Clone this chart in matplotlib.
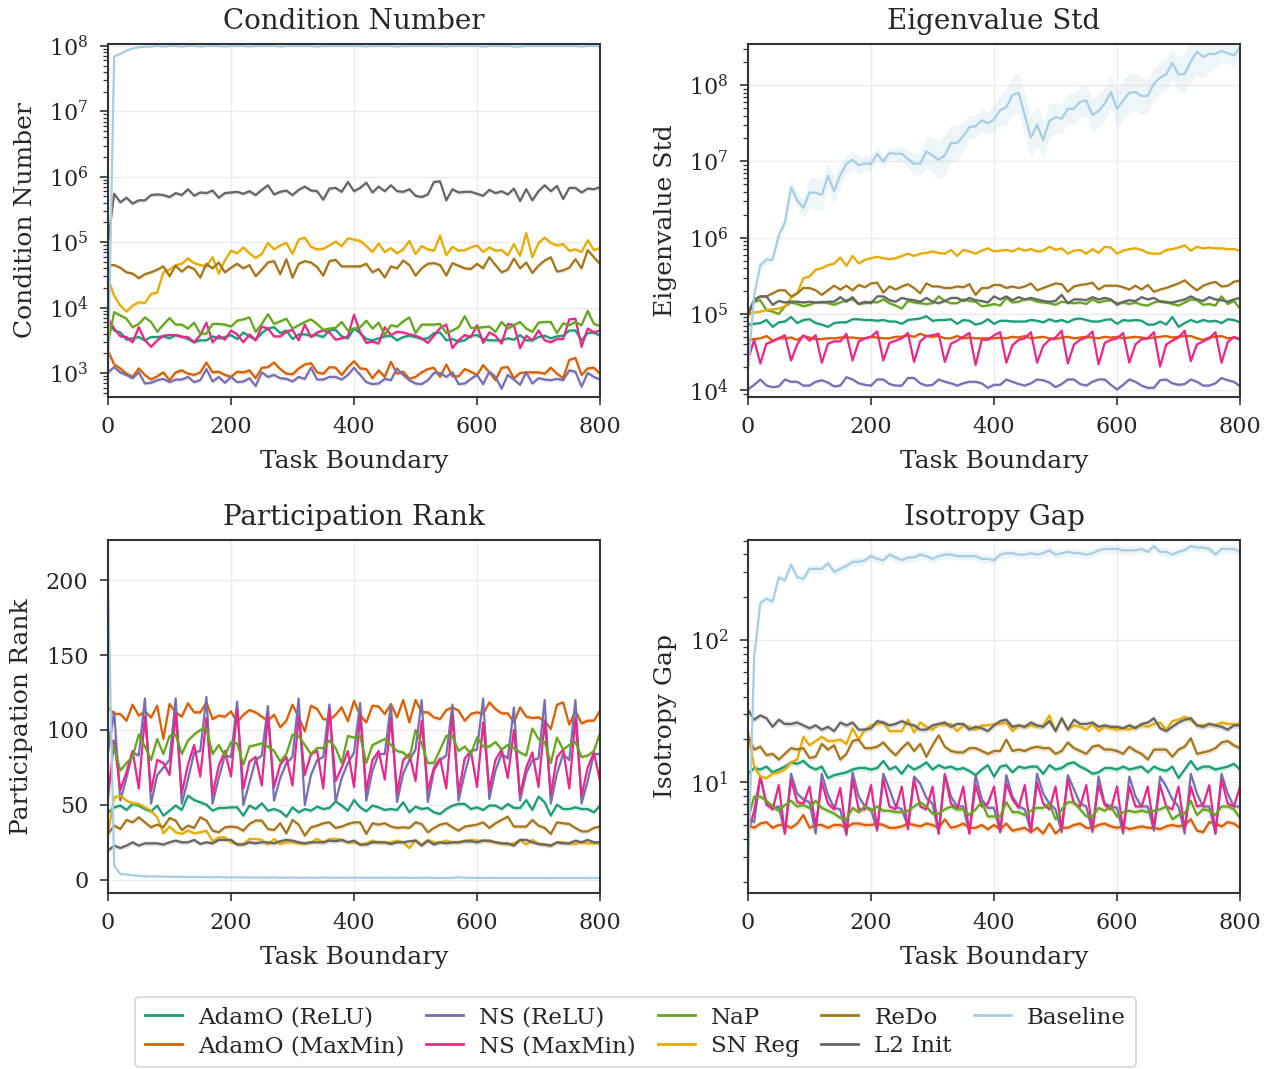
import numpy as np
import matplotlib
matplotlib.use("Agg")
import matplotlib.pyplot as plt
from matplotlib.ticker import LogLocator, NullFormatter, MultipleLocator

STEP = 10  # evaluations are logged every 10 task boundaries

METHODS = ["AdamO (ReLU)", "AdamO (MaxMin)", "NS (ReLU)", "NS (MaxMin)",
           "NaP", "SN Reg", "ReDo", "L2 Init", "Baseline"]
COLORS = ["#1b9e77", "#d95f02", "#7570b3", "#e7298a",
          "#66a61e", "#e6ab02", "#a6761d", "#666666", "#a6cee3"]

# ---------------- Condition number (log10) ----------------
cond_adamo_relu = [3.80, 3.65, 3.62, 3.51, 3.53, 3.55, 3.50, 3.55, 3.55, 3.56, 3.53,
                   3.58, 3.56, 3.52, 3.47, 3.50, 3.50, 3.56, 3.53, 3.55, 3.58,
                   3.52, 3.62, 3.56, 3.51, 3.61, 3.68, 3.70, 3.61, 3.65, 3.52,
                   3.59, 3.59, 3.57, 3.58, 3.55, 3.65, 3.66, 3.56, 3.53, 3.68,
                   3.61, 3.52, 3.50, 3.53, 3.56, 3.57, 3.50, 3.55, 3.57, 3.55,
                   3.52, 3.53, 3.61, 3.62, 3.50, 3.52, 3.48, 3.50, 3.57, 3.58,
                   3.52, 3.50, 3.50, 3.50, 3.53, 3.51, 3.58, 3.50, 3.50, 3.55,
                   3.57, 3.53, 3.56, 3.57, 3.65, 3.65, 3.50, 3.61, 3.62, 3.57]
cond_adamo_maxmin = [3.34, 3.13, 3.07, 2.99, 2.94, 3.07, 2.97, 2.90, 2.95, 3.01, 2.89,
                     3.01, 3.04, 2.99, 2.97, 3.01, 3.16, 3.01, 3.02, 2.97, 2.94,
                     3.02, 3.01, 3.04, 2.92, 3.08, 3.09, 3.16, 3.06, 2.99, 2.98,
                     3.07, 3.13, 3.15, 3.01, 2.99, 3.09, 3.08, 2.97, 3.09, 3.18,
                     3.07, 3.06, 2.92, 3.04, 2.94, 3.17, 2.99, 3.02, 2.91, 2.94,
                     3.01, 3.06, 3.08, 2.94, 3.13, 2.95, 2.95, 3.06, 3.02, 2.97,
                     3.12, 3.01, 2.89, 3.08, 3.09, 2.92, 3.00, 3.01, 3.01, 3.01,
                     2.99, 3.08, 2.99, 2.92, 3.20, 3.23, 2.97, 3.07, 3.08, 2.99]
cond_ns_relu = [3.01, 3.09, 3.01, 2.97, 2.92, 3.01, 2.84, 2.85, 2.89, 2.91, 2.86,
                2.90, 2.90, 2.94, 2.86, 2.89, 3.06, 2.87, 2.94, 2.85, 2.94,
                2.86, 2.87, 2.92, 2.80, 3.01, 2.94, 2.97, 2.92, 2.91, 2.87,
                2.94, 2.91, 3.08, 2.90, 2.90, 2.94, 2.94, 2.90, 2.97, 3.08,
                2.97, 2.86, 2.83, 2.84, 2.91, 2.89, 3.07, 2.97, 2.89, 2.84,
                2.83, 2.89, 3.00, 3.00, 2.94, 3.01, 2.83, 2.84, 2.91, 2.97,
                2.83, 3.02, 2.94, 2.76, 2.97, 2.90, 2.82, 3.01, 2.84, 2.92,
                2.90, 2.89, 2.91, 2.89, 3.04, 3.02, 2.79, 3.00, 2.94, 2.90]
cond_ns_maxmin = [3.83, 3.68, 3.56, 3.55, 3.47, 3.70, 3.50, 3.40, 3.50, 3.57, 3.58,
                  3.58, 3.55, 3.55, 3.47, 3.58, 3.77, 3.47, 3.57, 3.51, 3.65,
                  3.59, 3.47, 3.59, 3.50, 3.71, 3.68, 3.56, 3.56, 3.63, 3.66,
                  3.50, 3.74, 3.55, 3.62, 3.65, 3.62, 3.51, 3.53, 3.56, 3.89,
                  3.62, 3.46, 3.48, 3.45, 3.70, 3.58, 3.63, 3.62, 3.59, 3.57,
                  3.53, 3.46, 3.57, 3.69, 3.74, 3.38, 3.50, 3.58, 3.55, 3.73,
                  3.46, 3.62, 3.57, 3.45, 3.75, 3.73, 3.38, 3.57, 3.50, 3.65,
                  3.50, 3.47, 3.52, 3.52, 3.82, 3.83, 3.40, 3.68, 3.62, 3.65]
cond_nap = [3.45, 3.93, 3.88, 3.83, 3.70, 3.75, 3.85, 3.78, 3.63, 3.74, 3.84,
            3.74, 3.74, 3.68, 3.77, 3.60, 3.60, 3.75, 3.75, 3.74, 3.71,
            3.80, 3.82, 3.85, 3.63, 3.75, 3.90, 3.75, 3.79, 3.83, 3.68,
            3.73, 3.78, 3.82, 3.75, 3.66, 3.68, 3.69, 3.78, 3.65, 3.68,
            3.70, 3.80, 3.68, 3.77, 3.58, 3.73, 3.71, 3.79, 3.85, 3.61,
            3.74, 3.74, 3.74, 3.75, 3.61, 3.65, 3.70, 3.87, 3.69, 3.69,
            3.70, 3.71, 3.63, 3.78, 3.68, 3.73, 3.78, 3.68, 3.63, 3.77,
            3.78, 3.78, 3.61, 3.76, 3.73, 3.78, 3.73, 3.95, 3.75, 3.72]
cond_snreg = [4.45, 4.18, 4.03, 3.94, 4.03, 4.08, 4.07, 4.21, 4.23, 4.54, 4.58,
              4.65, 4.67, 4.75, 4.68, 4.65, 4.63, 4.77, 4.52, 4.72, 4.87,
              4.83, 4.92, 4.83, 4.76, 4.82, 4.99, 4.89, 4.95, 4.99, 4.82,
              5.04, 5.07, 4.93, 4.89, 4.90, 4.95, 5.01, 4.94, 5.06, 5.04,
              5.02, 4.94, 4.85, 4.98, 4.85, 4.91, 4.83, 4.89, 5.02, 4.82,
              4.94, 4.89, 4.87, 5.10, 4.80, 4.93, 4.87, 4.88, 4.92, 4.95,
              4.85, 4.92, 4.87, 4.88, 4.80, 4.97, 4.79, 5.14, 4.77, 4.99,
              5.07, 4.99, 4.95, 4.97, 4.87, 4.89, 4.85, 5.03, 4.88, 4.91]
cond_redo = [4.65, 4.65, 4.61, 4.54, 4.52, 4.45, 4.51, 4.54, 4.58, 4.63, 4.48,
             4.64, 4.55, 4.63, 4.59, 4.46, 4.67, 4.60, 4.69, 4.54, 4.61,
             4.67, 4.60, 4.65, 4.48, 4.58, 4.69, 4.71, 4.51, 4.74, 4.46,
             4.67, 4.71, 4.69, 4.62, 4.49, 4.71, 4.73, 4.63, 4.63, 4.63,
             4.63, 4.67, 4.54, 4.59, 4.46, 4.63, 4.60, 4.72, 4.65, 4.49,
             4.60, 4.67, 4.68, 4.65, 4.49, 4.68, 4.64, 4.60, 4.59, 4.67,
             4.60, 4.77, 4.65, 4.54, 4.58, 4.75, 4.60, 4.69, 4.53, 4.64,
             4.72, 4.77, 4.55, 4.57, 4.61, 4.74, 4.60, 4.88, 4.77, 4.67]
cond_l2 = [5.00, 5.74, 5.61, 5.68, 5.59, 5.64, 5.64, 5.72, 5.73, 5.72, 5.69,
           5.75, 5.72, 5.81, 5.71, 5.76, 5.75, 5.79, 5.68, 5.75, 5.76,
           5.77, 5.74, 5.78, 5.72, 5.80, 5.87, 5.73, 5.77, 5.79, 5.72,
           5.80, 5.85, 5.79, 5.78, 5.65, 5.82, 5.83, 5.77, 5.92, 5.78,
           5.83, 5.91, 5.76, 5.85, 5.78, 5.87, 5.78, 5.77, 5.81, 5.71,
           5.69, 5.73, 5.92, 5.93, 5.64, 5.81, 5.76, 5.77, 5.77, 5.74,
           5.71, 5.80, 5.75, 5.78, 5.73, 5.82, 5.63, 5.81, 5.64, 5.78,
           5.87, 5.78, 5.86, 5.66, 5.83, 5.83, 5.76, 5.82, 5.81, 5.84]
cond_baseline = [3.00, 7.84, 7.88, 7.93, 7.96, 7.98, 7.99, 7.99, 8.00, 7.99, 8.00,
                 8.00, 7.99, 8.00, 8.00, 7.99, 8.00, 8.00, 8.00, 7.99, 8.00,
                 8.00, 8.00, 7.99, 8.00, 8.00, 8.00, 8.00, 7.99, 8.00, 8.00,
                 8.00, 8.00, 8.00, 7.99, 8.00, 8.00, 8.00, 8.00, 8.00, 8.00,
                 8.00, 7.99, 8.00, 8.00, 8.00, 8.00, 7.99, 8.00, 8.00, 8.00,
                 8.00, 8.00, 8.00, 8.00, 7.99, 8.00, 8.00, 8.00, 8.00, 8.00,
                 7.99, 8.00, 8.00, 8.00, 8.00, 7.99, 7.99, 8.00, 8.00, 8.00,
                 8.00, 8.00, 8.00, 8.00, 8.00, 8.00, 7.99, 8.00, 8.00, 8.00]

# ---------------- Eigenvalue std (log10) ----------------
eig_adamo_relu = [4.86, 4.87, 4.88, 4.92, 4.83, 4.89, 4.90, 4.96, 4.88, 4.92, 4.93,
                  4.88, 4.86, 4.83, 4.88, 4.89, 4.89, 4.93, 4.93, 4.92, 4.92,
                  4.91, 4.92, 4.90, 4.90, 4.87, 4.92, 4.93, 4.94, 4.97, 4.91,
                  4.92, 4.92, 4.93, 4.87, 4.92, 4.91, 4.86, 4.88, 4.93, 4.87,
                  4.91, 4.91, 4.90, 4.90, 4.90, 4.92, 4.91, 4.89, 4.93, 4.90,
                  4.92, 4.89, 4.93, 4.94, 4.92, 4.90, 4.90, 4.92, 4.93, 4.87,
                  4.92, 4.91, 4.92, 4.91, 4.86, 4.86, 4.90, 4.86, 4.96, 4.83,
                  4.88, 4.92, 4.89, 4.92, 4.90, 4.91, 4.88, 4.93, 4.92, 4.89]
eig_adamo_maxmin = [4.66, 4.67, 4.68, 4.71, 4.65, 4.68, 4.68, 4.69, 4.66, 4.71, 4.69,
                    4.67, 4.67, 4.68, 4.68, 4.69, 4.69, 4.69, 4.68, 4.68, 4.70,
                    4.69, 4.68, 4.68, 4.70, 4.70, 4.72, 4.70, 4.74, 4.71, 4.70,
                    4.71, 4.68, 4.68, 4.71, 4.68, 4.69, 4.68, 4.68, 4.68, 4.68,
                    4.69, 4.68, 4.70, 4.69, 4.71, 4.68, 4.69, 4.70, 4.68, 4.67,
                    4.69, 4.70, 4.68, 4.69, 4.70, 4.69, 4.68, 4.70, 4.69, 4.70,
                    4.68, 4.69, 4.70, 4.69, 4.68, 4.69, 4.70, 4.71, 4.69, 4.70,
                    4.71, 4.71, 4.68, 4.66, 4.69, 4.70, 4.71, 4.68, 4.69, 4.68]
eig_ns_relu = [4.01, 4.07, 4.14, 4.06, 4.04, 4.05, 4.14, 4.11, 4.11, 4.06, 4.06,
               4.11, 4.13, 4.10, 4.05, 4.06, 4.17, 4.14, 4.09, 4.07, 4.06,
               4.14, 4.14, 4.08, 4.06, 4.06, 4.16, 4.16, 4.09, 4.06, 4.07,
               4.14, 4.11, 4.09, 4.06, 4.09, 4.11, 4.11, 4.09, 4.03, 4.07,
               4.07, 4.14, 4.11, 4.08, 4.06, 4.09, 4.14, 4.13, 4.10, 4.04,
               4.08, 4.14, 4.14, 4.08, 4.06, 4.11, 4.14, 4.14, 4.07, 4.01,
               4.07, 4.14, 4.11, 4.06, 4.03, 4.03, 4.13, 4.14, 4.09, 4.07,
               4.08, 4.14, 4.11, 4.06, 4.06, 4.09, 4.16, 4.13, 4.11, 4.05]
eig_ns_maxmin = [4.40, 4.66, 4.35, 4.61, 4.64, 4.68, 4.72, 4.39, 4.60, 4.72, 4.65,
                 4.72, 4.36, 4.61, 4.64, 4.64, 4.74, 4.39, 4.64, 4.68, 4.70,
                 4.77, 4.39, 4.62, 4.65, 4.68, 4.75, 4.37, 4.64, 4.71, 4.72,
                 4.74, 4.37, 4.61, 4.65, 4.70, 4.75, 4.33, 4.66, 4.66, 4.72,
                 4.76, 4.36, 4.59, 4.66, 4.68, 4.76, 4.36, 4.58, 4.66, 4.69,
                 4.78, 4.35, 4.60, 4.66, 4.69, 4.77, 4.34, 4.62, 4.66, 4.68,
                 4.75, 4.36, 4.60, 4.67, 4.68, 4.76, 4.31, 4.60, 4.65, 4.69,
                 4.78, 4.38, 4.60, 4.64, 4.68, 4.76, 4.36, 4.63, 4.70, 4.66]
eig_nap = [4.99, 5.16, 5.18, 5.05, 5.03, 5.00, 5.10, 5.15, 5.13, 5.10, 5.12,
           5.15, 5.16, 5.14, 5.12, 5.15, 5.18, 5.19, 5.13, 5.14, 5.16,
           5.15, 5.19, 5.14, 5.11, 5.07, 5.17, 5.15, 5.14, 5.13, 5.14,
           5.23, 5.17, 5.14, 5.14, 5.19, 5.17, 5.16, 5.10, 5.11, 5.13,
           5.11, 5.21, 5.15, 5.16, 5.19, 5.19, 5.16, 5.15, 5.14, 5.12,
           5.16, 5.15, 5.14, 5.15, 5.13, 5.19, 5.15, 5.17, 5.18, 5.14,
           5.15, 5.13, 5.15, 5.12, 5.11, 5.15, 5.17, 5.16, 5.13, 5.11,
           5.15, 5.19, 5.18, 5.12, 5.13, 5.11, 5.23, 5.13, 5.17, 5.07]
eig_snreg = [4.99, 5.02, 5.03, 5.05, 5.06, 5.07, 5.10, 5.21, 5.27, 5.47, 5.49,
             5.58, 5.60, 5.64, 5.66, 5.74, 5.63, 5.76, 5.66, 5.71, 5.73,
             5.75, 5.73, 5.72, 5.73, 5.76, 5.79, 5.76, 5.79, 5.80, 5.82,
             5.80, 5.79, 5.84, 5.76, 5.84, 5.82, 5.79, 5.83, 5.86, 5.82,
             5.83, 5.84, 5.82, 5.86, 5.83, 5.85, 5.82, 5.83, 5.88, 5.84,
             5.86, 5.79, 5.83, 5.84, 5.79, 5.85, 5.80, 5.88, 5.87, 5.79,
             5.83, 5.85, 5.86, 5.84, 5.80, 5.79, 5.79, 5.84, 5.85, 5.87,
             5.90, 5.83, 5.88, 5.86, 5.87, 5.86, 5.86, 5.85, 5.85, 5.83]
eig_redo = [4.97, 5.19, 5.23, 5.23, 5.27, 5.31, 5.31, 5.23, 5.27, 5.34, 5.34,
            5.31, 5.25, 5.31, 5.37, 5.32, 5.37, 5.31, 5.38, 5.35, 5.40,
            5.41, 5.28, 5.36, 5.32, 5.36, 5.39, 5.34, 5.27, 5.40, 5.36,
            5.36, 5.34, 5.34, 5.36, 5.35, 5.39, 5.25, 5.34, 5.34, 5.38,
            5.38, 5.34, 5.36, 5.34, 5.36, 5.40, 5.31, 5.34, 5.37, 5.40,
            5.39, 5.29, 5.36, 5.38, 5.39, 5.41, 5.32, 5.37, 5.37, 5.37,
            5.35, 5.32, 5.37, 5.32, 5.38, 5.29, 5.32, 5.34, 5.37, 5.40,
            5.44, 5.37, 5.31, 5.37, 5.40, 5.42, 5.36, 5.37, 5.42, 5.44]
eig_l2 = [5.01, 5.18, 5.23, 5.23, 5.12, 5.17, 5.15, 5.16, 5.16, 5.15, 5.16,
          5.15, 5.15, 5.16, 5.16, 5.22, 5.16, 5.22, 5.13, 5.16, 5.14,
          5.23, 5.23, 5.18, 5.16, 5.21, 5.19, 5.18, 5.16, 5.21, 5.16,
          5.14, 5.17, 5.21, 5.21, 5.17, 5.21, 5.18, 5.17, 5.15, 5.23,
          5.19, 5.23, 5.18, 5.22, 5.19, 5.21, 5.19, 5.17, 5.16, 5.17,
          5.25, 5.14, 5.19, 5.19, 5.18, 5.22, 5.19, 5.21, 5.19, 5.12,
          5.16, 5.18, 5.17, 5.22, 5.19, 5.21, 5.16, 5.15, 5.15, 5.17,
          5.19, 5.23, 5.19, 5.17, 5.22, 5.19, 5.18, 5.16, 5.19, 5.21]
eig_baseline = [4.27, 5.25, 5.64, 5.71, 5.71, 6.03, 6.20, 6.66, 6.49, 6.39, 6.59,
                6.59, 6.56, 6.81, 6.61, 6.82, 6.97, 7.02, 6.95, 6.97, 6.97,
                7.10, 7.00, 7.11, 7.10, 7.10, 7.03, 6.97, 6.97, 7.13, 7.08,
                7.02, 7.08, 7.24, 7.24, 7.33, 7.45, 7.46, 7.54, 7.50, 7.55,
                7.67, 7.71, 7.87, 7.90, 7.61, 7.31, 7.48, 7.28, 7.53, 7.58,
                7.56, 7.69, 7.69, 7.78, 7.80, 7.61, 7.66, 7.76, 7.91, 7.69,
                7.80, 7.90, 7.91, 7.86, 7.86, 8.02, 8.10, 8.14, 8.29, 8.14,
                8.15, 8.31, 8.44, 8.37, 8.41, 8.41, 8.45, 8.42, 8.39, 8.49]
# half-width of the seed spread around the Baseline curve (decades)
eig_baseline_spread = [0.05, 0.05, 0.06, 0.06, 0.06, 0.07, 0.08, 0.10, 0.10, 0.12,
                       0.20, 0.20, 0.20, 0.18, 0.18, 0.15, 0.12, 0.12, 0.12,
                       0.10, 0.10, 0.08, 0.08, 0.08, 0.08, 0.10, 0.12, 0.14, 0.15,
                       0.20, 0.22, 0.25, 0.26, 0.25, 0.22, 0.20, 0.16, 0.15, 0.15,
                       0.15, 0.18, 0.20, 0.24, 0.26, 0.26, 0.28, 0.28, 0.26, 0.24,
                       0.22, 0.20, 0.20, 0.20, 0.20, 0.20, 0.20, 0.22, 0.22, 0.22,
                       0.22, 0.24, 0.26, 0.26, 0.25, 0.24, 0.22, 0.20, 0.20, 0.20,
                       0.20, 0.22, 0.26, 0.28, 0.30, 0.28, 0.25, 0.18, 0.15, 0.14,
                       0.14, 0.14]

# ---------------- Participation rank (linear) ----------------
pr_adamo_relu = [45.0, 48.4, 49.6, 46.7, 50.7, 49.6, 47.3, 45.8, 49.6, 42.9, 46.2,
                 49.6, 46.7, 56.2, 53.3, 51.8, 50.2, 46.2, 48.0, 48.0, 48.4,
                 48.4, 42.9, 49.6, 47.3, 51.1, 46.2, 47.3, 45.8, 42.2, 48.4,
                 45.1, 47.3, 46.2, 48.9, 47.3, 48.0, 52.4, 49.6, 46.2, 53.3,
                 48.4, 45.8, 49.6, 48.4, 46.7, 47.3, 46.7, 51.8, 45.1, 48.9,
                 47.3, 48.0, 45.1, 44.0, 47.3, 49.6, 50.7, 50.7, 47.3, 48.4,
                 46.7, 49.6, 49.6, 47.3, 50.7, 48.0, 48.0, 53.3, 46.7, 55.6,
                 51.8, 42.9, 50.2, 47.3, 47.3, 48.4, 47.3, 47.3, 45.1, 49.6]
pr_adamo_maxmin = [115.0, 110.7, 110.7, 106.2, 116.9, 109.6, 112.4, 108.4, 116.2, 94.0, 117.3,
                   111.8, 108.9, 117.8, 111.8, 111.8, 118.4, 107.3, 109.6, 108.9, 112.4,
                   105.1, 110.2, 113.3, 111.8, 108.9, 106.2, 110.2, 101.8, 106.2, 116.9,
                   108.4, 99.1, 116.2, 114.0, 107.3, 106.7, 110.2, 115.1, 105.8, 119.4,
                   109.6, 105.1, 116.2, 115.6, 110.7, 117.3, 108.4, 120.0, 105.1, 120.0,
                   111.8, 111.8, 108.4, 107.3, 113.3, 115.1, 112.9, 106.2, 110.7, 111.8,
                   110.7, 118.4, 114.0, 111.1, 111.1, 105.1, 115.1, 108.9, 108.0, 108.4,
                   106.2, 100.7, 116.9, 118.4, 103.6, 112.9, 104.4, 106.2, 106.2, 112.9]
pr_ns_relu = [85, 112, 53, 68, 85, 83, 121, 51, 70, 75, 80,
              121, 51, 67, 85, 86, 122, 51, 68, 83, 82,
              119, 50, 65, 80, 83, 116, 53, 68, 78, 82,
              121, 50, 70, 80, 82, 117, 52, 68, 78, 85,
              118, 53, 73, 84, 84, 117, 52, 71, 80, 87,
              120, 52, 73, 80, 83, 117, 53, 71, 86, 87,
              121, 54, 73, 84, 81, 115, 53, 71, 80, 81,
              120, 51, 71, 84, 80, 120, 51, 66, 84, 84]
pr_ns_maxmin = [55, 93, 60, 72, 86, 61, 109, 59, 80, 78, 70,
                111, 58, 77, 90, 69, 108, 57, 76, 86, 69,
                114, 61, 79, 82, 63, 110, 62, 77, 82, 63,
                109, 70, 84, 86, 61, 114, 66, 75, 86, 62,
                110, 60, 80, 86, 67, 108, 58, 80, 84, 66,
                106, 60, 75, 81, 61, 110, 58, 81, 86, 62,
                105, 60, 80, 87, 68, 100, 57, 75, 85, 62,
                106, 57, 82, 87, 61, 108, 56, 75, 85, 66]
pr_nap = [100, 88, 73, 78, 82, 97, 89, 80, 94, 84, 96,
          97, 84, 93, 97, 100, 101, 84, 90, 83, 92,
          91, 77, 89, 90, 91, 89, 86, 79, 84, 97,
          96, 90, 84, 88, 88, 93, 88, 78, 96, 95,
          96, 78, 90, 92, 94, 90, 86, 85, 81, 100,
          91, 78, 78, 87, 96, 96, 86, 89, 84, 95,
          89, 89, 92, 87, 90, 88, 85, 83, 101, 94,
          92, 78, 95, 87, 90, 92, 82, 83, 86, 98]
pr_snreg = [31.0, 55.1, 56.2, 52.9, 51.1, 50.7, 48.4, 46.2, 41.8, 31.1, 35.6,
            31.8, 30.7, 32.9, 31.1, 31.8, 32.9, 25.8, 28.4, 28.4, 25.1,
            24.0, 24.0, 27.3, 27.3, 26.7, 23.6, 27.3, 24.0, 25.1, 25.1,
            24.4, 24.0, 25.1, 27.3, 25.1, 27.3, 27.3, 26.7, 25.1, 25.1,
            23.6, 24.4, 26.2, 25.1, 25.1, 25.1, 26.2, 25.1, 21.3, 26.7,
            23.6, 26.7, 25.1, 25.1, 26.2, 25.1, 25.1, 26.2, 26.7, 26.2,
            26.2, 25.8, 25.1, 24.4, 23.6, 24.4, 26.7, 23.6, 26.7, 24.0,
            23.6, 22.9, 25.1, 25.1, 24.4, 24.0, 25.1, 24.4, 24.4, 24.4]
pr_redo = [30.7, 36.2, 34.0, 40.0, 38.4, 41.8, 38.4, 35.1, 36.9, 35.1, 41.3,
           39.6, 33.3, 36.2, 34.7, 41.8, 39.6, 32.9, 31.8, 35.1, 35.6,
           35.1, 32.9, 37.3, 39.6, 39.6, 34.0, 33.3, 37.8, 31.1, 40.0,
           36.9, 29.6, 35.1, 36.2, 37.8, 38.4, 34.7, 35.6, 37.3, 38.4,
           38.4, 30.7, 37.8, 36.9, 37.8, 35.6, 34.7, 35.1, 34.7, 38.4,
           37.3, 31.8, 34.7, 36.9, 37.8, 35.1, 32.9, 35.6, 36.2, 36.9,
           38.4, 34.7, 37.8, 40.0, 42.2, 35.6, 35.6, 35.6, 40.0, 36.2,
           34.7, 30.7, 38.4, 37.8, 37.3, 34.7, 32.4, 32.4, 34.7, 35.6]
pr_l2 = [19.6, 22.9, 21.3, 22.9, 25.1, 22.9, 24.4, 24.4, 24.4, 23.6, 25.1,
         26.2, 25.1, 25.1, 26.7, 24.0, 25.1, 24.4, 26.7, 26.7, 26.7,
         23.6, 23.6, 25.1, 24.4, 25.1, 25.1, 24.4, 25.8, 26.7, 26.2,
         25.1, 24.4, 25.1, 25.1, 25.1, 26.2, 25.8, 26.7, 25.1, 26.2,
         23.6, 23.6, 25.1, 25.1, 25.1, 24.0, 25.1, 25.1, 25.8, 26.2,
         22.9, 26.2, 23.6, 25.1, 24.4, 25.1, 25.1, 25.8, 25.8, 25.1,
         26.2, 26.2, 25.1, 24.4, 24.4, 22.9, 26.7, 26.7, 25.1, 24.0,
         23.6, 22.9, 25.1, 24.4, 24.4, 26.2, 25.1, 26.7, 25.1, 25.1]
pr_baseline = [200.0, 9.6, 4.0, 3.6, 3.1, 2.8, 2.5, 2.3, 2.4, 2.2, 2.1,
               2.0, 2.1, 1.9, 1.9, 2.0, 1.8, 1.8, 1.9, 1.7, 1.8,
               1.7, 1.7, 1.6, 1.7, 1.6, 1.6, 1.7, 1.5, 1.6, 1.6,
               1.5, 1.6, 1.5, 1.5, 1.6, 1.5, 1.4, 1.5, 1.5, 1.5,
               1.5, 1.4, 1.5, 1.4, 1.5, 1.4, 1.4, 1.5, 1.4, 1.4,
               1.4, 1.5, 1.4, 1.4, 1.3, 1.4, 1.8, 1.5, 1.4, 1.4,
               1.3, 1.4, 1.4, 1.3, 1.4, 1.3, 1.4, 1.3, 1.3, 1.4,
               1.3, 1.3, 1.4, 1.3, 1.3, 1.4, 1.3, 1.3, 1.3, 1.3]

# ---------------- Isotropy gap (log10) ----------------
iso_adamo_relu = [1.06, 1.10, 1.09, 1.11, 1.07, 1.09, 1.11, 1.14, 1.13, 1.15, 1.11,
                  1.09, 1.11, 1.03, 1.05, 1.06, 1.07, 1.09, 1.10, 1.10, 1.09,
                  1.10, 1.15, 1.09, 1.11, 1.06, 1.12, 1.09, 1.11, 1.14, 1.09,
                  1.12, 1.10, 1.11, 1.09, 1.10, 1.08, 1.05, 1.09, 1.12, 1.04,
                  1.11, 1.12, 1.07, 1.11, 1.10, 1.11, 1.11, 1.06, 1.12, 1.09,
                  1.10, 1.13, 1.14, 1.11, 1.09, 1.06, 1.07, 1.10, 1.10, 1.09,
                  1.11, 1.09, 1.10, 1.11, 1.07, 1.11, 1.09, 1.08, 1.11, 1.03,
                  1.09, 1.15, 1.09, 1.11, 1.11, 1.09, 1.10, 1.11, 1.13, 1.09]
iso_adamo_maxmin = [0.70, 0.68, 0.71, 0.72, 0.68, 0.70, 0.70, 0.68, 0.71, 0.77, 0.68,
                    0.70, 0.70, 0.68, 0.70, 0.70, 0.68, 0.71, 0.71, 0.70, 0.70,
                    0.71, 0.70, 0.68, 0.68, 0.69, 0.71, 0.70, 0.69, 0.71, 0.70,
                    0.68, 0.74, 0.68, 0.69, 0.71, 0.68, 0.68, 0.70, 0.67, 0.70,
                    0.67, 0.71, 0.66, 0.67, 0.68, 0.65, 0.68, 0.64, 0.71, 0.64,
                    0.68, 0.68, 0.70, 0.71, 0.68, 0.68, 0.70, 0.71, 0.69, 0.68,
                    0.69, 0.67, 0.68, 0.69, 0.68, 0.68, 0.67, 0.69, 0.70, 0.69,
                    0.70, 0.74, 0.66, 0.65, 0.72, 0.71, 0.69, 0.72, 0.71, 0.68]
iso_ns_relu = [0.75, 0.72, 1.04, 0.84, 0.82, 0.83, 0.64, 1.06, 0.92, 0.88, 0.86,
               0.64, 1.06, 0.91, 0.82, 0.81, 0.63, 1.07, 0.90, 0.83, 0.81,
               0.66, 1.06, 0.95, 0.83, 0.81, 0.69, 1.04, 0.99, 0.89, 0.85,
               0.64, 1.06, 0.90, 0.83, 0.83, 0.64, 1.05, 0.88, 0.82, 0.82,
               0.65, 1.05, 0.90, 0.83, 0.81, 0.65, 1.06, 0.92, 0.85, 0.81,
               0.65, 1.05, 0.95, 0.85, 0.83, 0.65, 1.04, 0.85, 0.83, 0.82,
               0.64, 1.04, 0.90, 0.83, 0.83, 0.66, 1.04, 0.97, 0.88, 0.83,
               0.64, 1.06, 0.92, 0.83, 0.83, 0.64, 1.06, 0.92, 0.83, 0.83]
iso_ns_maxmin = [0.65, 0.80, 1.04, 0.85, 0.81, 0.98, 0.64, 1.02, 0.86, 0.85, 0.97,
                 0.69, 1.00, 0.85, 0.81, 0.96, 0.64, 1.02, 0.81, 0.81, 0.98,
                 0.67, 1.02, 0.83, 0.81, 0.97, 0.67, 1.02, 0.83, 0.81, 0.97,
                 0.64, 1.05, 0.85, 0.81, 0.97, 0.64, 0.98, 0.83, 0.85, 0.97,
                 0.65, 0.99, 0.88, 0.82, 0.98, 0.65, 1.00, 0.85, 0.81, 0.97,
                 0.67, 1.02, 0.85, 0.83, 0.98, 0.67, 0.98, 0.84, 0.81, 0.97,
                 0.66, 0.97, 0.83, 0.83, 0.97, 0.68, 0.98, 0.83, 0.81, 0.97,
                 0.67, 0.97, 0.83, 0.84, 0.98, 0.64, 1.02, 0.85, 0.83, 0.97]
iso_nap = [0.74, 0.90, 0.90, 0.87, 0.83, 0.80, 0.84, 0.87, 0.83, 0.84, 0.82,
           0.87, 0.82, 0.80, 0.78, 0.75, 0.74, 0.82, 0.79, 0.83, 0.80,
           0.83, 0.80, 0.80, 0.79, 0.79, 0.80, 0.83, 0.86, 0.83, 0.78,
           0.78, 0.81, 0.83, 0.81, 0.81, 0.77, 0.81, 0.86, 0.76, 0.76,
           0.76, 0.86, 0.79, 0.79, 0.77, 0.80, 0.82, 0.82, 0.85, 0.74,
           0.81, 0.86, 0.86, 0.81, 0.76, 0.76, 0.82, 0.80, 0.83, 0.76,
           0.79, 0.80, 0.79, 0.80, 0.79, 0.80, 0.81, 0.83, 0.74, 0.77,
           0.78, 0.87, 0.77, 0.81, 0.80, 0.77, 0.83, 0.83, 0.81, 0.75]
iso_snreg = [1.35, 1.11, 1.04, 1.03, 1.06, 1.07, 1.09, 1.14, 1.16, 1.32, 1.26,
             1.29, 1.32, 1.29, 1.29, 1.30, 1.27, 1.38, 1.30, 1.37, 1.40,
             1.41, 1.42, 1.36, 1.36, 1.36, 1.44, 1.35, 1.42, 1.39, 1.37,
             1.41, 1.40, 1.41, 1.36, 1.40, 1.39, 1.37, 1.40, 1.40, 1.41,
             1.41, 1.42, 1.36, 1.40, 1.39, 1.40, 1.39, 1.40, 1.47, 1.36,
             1.45, 1.37, 1.40, 1.39, 1.37, 1.41, 1.36, 1.39, 1.38, 1.37,
             1.38, 1.37, 1.39, 1.40, 1.39, 1.41, 1.42, 1.37, 1.43, 1.44,
             1.46, 1.44, 1.40, 1.40, 1.41, 1.40, 1.42, 1.41, 1.41, 1.41]
iso_redo = [1.33, 1.23, 1.25, 1.19, 1.20, 1.16, 1.20, 1.24, 1.23, 1.24, 1.17,
            1.18, 1.27, 1.23, 1.26, 1.16, 1.20, 1.29, 1.30, 1.24, 1.24,
            1.25, 1.28, 1.23, 1.19, 1.24, 1.28, 1.22, 1.27, 1.18, 1.26,
            1.33, 1.25, 1.22, 1.21, 1.21, 1.24, 1.24, 1.22, 1.20, 1.22,
            1.22, 1.30, 1.22, 1.23, 1.22, 1.24, 1.25, 1.24, 1.24, 1.20,
            1.22, 1.28, 1.24, 1.22, 1.20, 1.25, 1.26, 1.23, 1.23, 1.22,
            1.20, 1.25, 1.22, 1.20, 1.16, 1.23, 1.23, 1.23, 1.18, 1.23,
            1.25, 1.31, 1.20, 1.21, 1.22, 1.24, 1.28, 1.29, 1.26, 1.24]
iso_l2 = [1.51, 1.44, 1.47, 1.45, 1.39, 1.44, 1.41, 1.41, 1.42, 1.40, 1.38,
          1.40, 1.37, 1.39, 1.36, 1.42, 1.40, 1.42, 1.37, 1.37, 1.38,
          1.43, 1.42, 1.40, 1.41, 1.43, 1.41, 1.40, 1.37, 1.37, 1.40,
          1.41, 1.42, 1.39, 1.41, 1.41, 1.37, 1.39, 1.38, 1.36, 1.40,
          1.43, 1.44, 1.39, 1.40, 1.39, 1.42, 1.40, 1.39, 1.43, 1.36,
          1.45, 1.37, 1.44, 1.41, 1.41, 1.42, 1.39, 1.40, 1.39, 1.39,
          1.38, 1.40, 1.38, 1.41, 1.42, 1.45, 1.38, 1.36, 1.39, 1.42,
          1.44, 1.45, 1.40, 1.39, 1.41, 1.40, 1.39, 1.37, 1.40, 1.40]
iso_baseline = [0.36, 1.88, 2.26, 2.29, 2.27, 2.44, 2.42, 2.53, 2.44, 2.43, 2.50,
                2.50, 2.50, 2.54, 2.48, 2.50, 2.52, 2.55, 2.55, 2.56, 2.59,
                2.57, 2.56, 2.60, 2.58, 2.56, 2.58, 2.58, 2.60, 2.59, 2.57,
                2.59, 2.60, 2.60, 2.59, 2.59, 2.59, 2.59, 2.57, 2.57, 2.56,
                2.60, 2.61, 2.61, 2.60, 2.60, 2.61, 2.60, 2.61, 2.63, 2.60,
                2.61, 2.62, 2.61, 2.61, 2.60, 2.61, 2.63, 2.64, 2.64, 2.64,
                2.63, 2.63, 2.63, 2.64, 2.62, 2.66, 2.62, 2.62, 2.60, 2.62,
                2.63, 2.66, 2.65, 2.65, 2.64, 2.60, 2.64, 2.64, 2.64, 2.62]

# seed spread used for the shaded bands (decades for log panels, units for linear)
SPREAD = {"cond": 0.03, "eig": 0.02, "pr": 1.5, "iso": 0.02}
BASELINE_SPREAD = {"cond": 0.004, "eig": eig_baseline_spread, "pr": 0.3, "iso": 0.03}

PANELS = [
    dict(key="cond", title="Condition Number", log=True, ylim=(10 ** 2.633, 10 ** 8.03),
         series=[cond_adamo_relu, cond_adamo_maxmin, cond_ns_relu, cond_ns_maxmin,
                 cond_nap, cond_snreg, cond_redo, cond_l2, cond_baseline]),
    dict(key="eig", title="Eigenvalue Std", log=True, ylim=(10 ** 3.91, 10 ** 8.54),
         series=[eig_adamo_relu, eig_adamo_maxmin, eig_ns_relu, eig_ns_maxmin,
                 eig_nap, eig_snreg, eig_redo, eig_l2, eig_baseline]),
    dict(key="pr", title="Participation Rank", log=False, ylim=(-8.7, 226.7),
         series=[pr_adamo_relu, pr_adamo_maxmin, pr_ns_relu, pr_ns_maxmin,
                 pr_nap, pr_snreg, pr_redo, pr_l2, pr_baseline]),
    dict(key="iso", title="Isotropy Gap", log=True, ylim=(10 ** 0.222, 10 ** 2.703),
         series=[iso_adamo_relu, iso_adamo_maxmin, iso_ns_relu, iso_ns_maxmin,
                 iso_nap, iso_snreg, iso_redo, iso_l2, iso_baseline]),
]

TEXT = "#262626"
plt.rcParams.update({
    "font.family": ["DejaVu Serif"],
    "mathtext.fontset": "dejavuserif",
    "text.color": TEXT,
    "axes.labelcolor": TEXT,
    "axes.edgecolor": "#333333",
    "axes.linewidth": 1.5,
    "xtick.color": "#333333",
    "ytick.color": "#333333",
    "xtick.labelcolor": TEXT,
    "ytick.labelcolor": TEXT,
    "xtick.direction": "out",
    "ytick.direction": "out",
})

fig = plt.figure(figsize=(12.72, 10.69), dpi=100)
W, H = 1272.0, 1069.0
boxes = [(108, 44, 492, 353), (748, 44, 492, 353),
         (108, 540, 492, 353), (748, 540, 492, 353)]

handles = []
for panel, (px, py, pw, ph) in zip(PANELS, boxes):
    ax = fig.add_axes([px / W, 1 - (py + ph) / H, pw / W, ph / H])
    key = panel["key"]
    for i, (name, color, vals) in enumerate(zip(METHODS, COLORS, panel["series"])):
        v = np.asarray(vals, dtype=float)
        x = np.arange(len(v)) * STEP
        s = BASELINE_SPREAD[key] if name == "Baseline" else SPREAD[key]
        s = np.asarray(s, dtype=float)
        if s.ndim:
            s = s[:len(v)]
        if panel["log"]:
            y, lo, hi = 10 ** v, 10 ** (v - s), 10 ** (v + s)
        else:
            y, lo, hi = v, v - s, v + s
        ax.fill_between(x, lo, hi, color=color, alpha=0.2, lw=0, zorder=1 + i * 0.01)
        line, = ax.plot(x, y, color=color, lw=1.6, label=name, zorder=2 + i * 0.01)
        if len(handles) < len(METHODS):
            handles.append(line)

    if panel["log"]:
        ax.set_yscale("log")
        ax.yaxis.set_major_locator(LogLocator(base=10, numticks=100))
        ax.yaxis.set_minor_locator(LogLocator(base=10, subs=np.arange(2, 10) * 1.0, numticks=100))
        ax.yaxis.set_minor_formatter(NullFormatter())
    else:
        ax.yaxis.set_major_locator(MultipleLocator(50))
    ax.set_ylim(*panel["ylim"])
    ax.set_xlim(0, 800)
    ax.xaxis.set_major_locator(MultipleLocator(200))

    ax.grid(True, which="major", color="#ebebeb", lw=1.0, zorder=0)
    ax.set_axisbelow(True)
    ax.tick_params(which="major", length=6, width=1.2, labelsize=16, pad=8)
    ax.tick_params(which="minor", length=3.5, width=0.9)
    for sp in ax.spines.values():
        sp.set_color("#333333")
        sp.set_linewidth(1.5)

    ax.set_title(panel["title"], fontsize=20, pad=10.5)
    ax.set_xlabel("Task Boundary", fontsize=18, labelpad=8.5)
    ax.set_ylabel(panel["title"], fontsize=18, labelpad=9)

leg = fig.legend(handles=handles, labels=METHODS, loc="lower center",
                 bbox_to_anchor=(0.4995, 0.0), bbox_transform=fig.transFigure,
                 borderaxespad=0.08, ncol=5, fontsize=16.6,
                 frameon=True, fancybox=True, handlelength=1.6,
                 handletextpad=0.7, columnspacing=0.95, borderpad=0.42,
                 labelspacing=0.3)
leg.get_frame().set_edgecolor("#cccccc")
leg.get_frame().set_linewidth(1.2)
for h in leg.legend_handles:
    h.set_linewidth(2.0)

fig.savefig("out.png", dpi=100)
